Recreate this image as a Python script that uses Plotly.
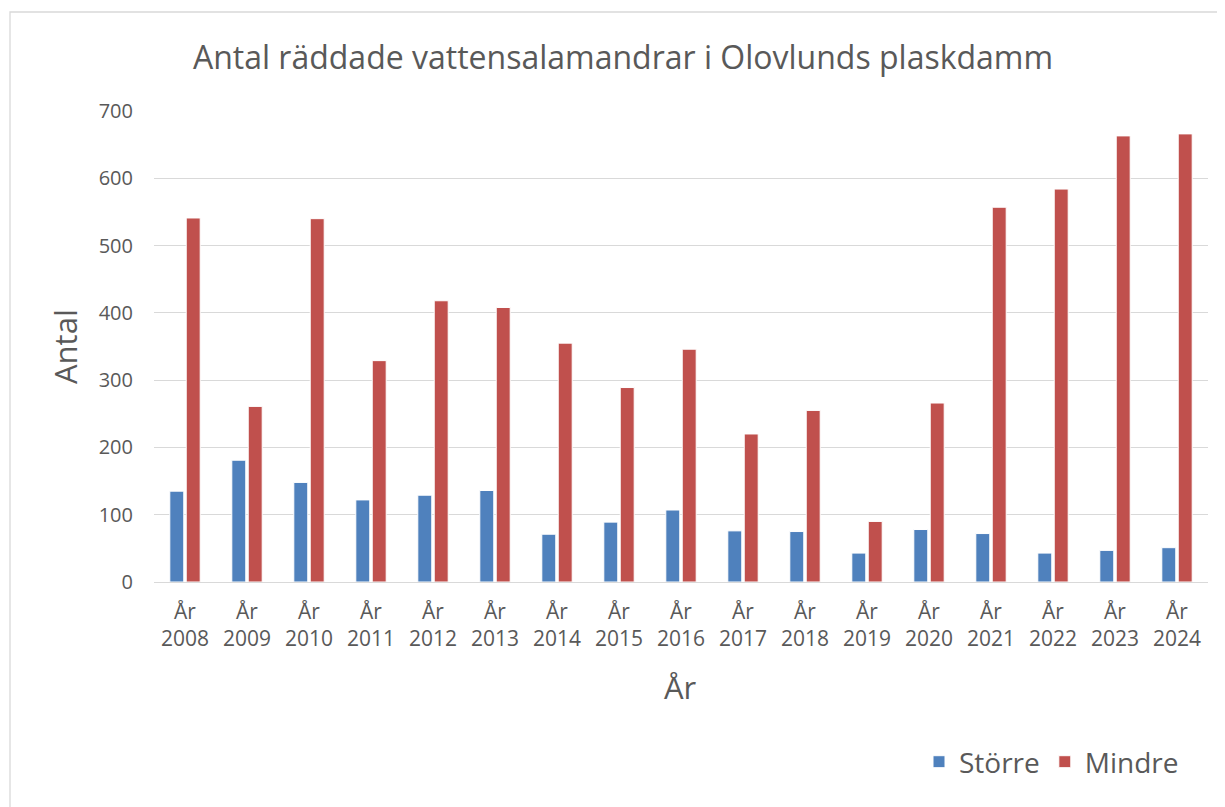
import plotly.graph_objects as go

years = ["2008", "2009", "2010", "2011", "2012", "2013", "2014", "2015", "2016",
         "2017", "2018", "2019", "2020", "2021", "2022", "2023", "2024"]
categories = ["År<br>" + y for y in years]
storre = [135, 181, 148, 122, 129, 136, 71, 89, 107, 76, 75, 43, 78, 72, 43, 47, 51]
mindre = [541, 261, 540, 329, 418, 408, 355, 289, 346, 220, 255, 90, 266, 557, 584, 663, 666]
y_ticks = [0, 100, 200, 300, 400, 500, 600, 700]

# page body has an 8px margin; work in screen coordinates and convert
OFF = 8
W, H = 1225 - OFF, 807 - OFF
PL, PR, PT, PB = 154, 1208, 111, 582          # plot area in screen pixels
L, R, T, B = PL - OFF, W - (PR - OFF), PT - OFF, H - (PB - OFF)
PW, PH = PR - PL, PB - PT

def px(x):
    return (x - PL) / PW

def py(y):
    return (PB - y) / PH

FONT = "Open Sans"
TXT = "#595959"
GRID = "#D9D9D9"

fig = go.Figure()
fig.add_trace(go.Bar(x=categories, y=storre, name="Större",
                     marker=dict(color="#4F81BD", line=dict(color="white", width=1))))
fig.add_trace(go.Bar(x=categories, y=mindre, name="Mindre",
                     marker=dict(color="#C0504D", line=dict(color="white", width=1))))

fig.update_layout(
    width=W, height=H,
    margin=dict(l=L, r=R, t=T, b=B),
    paper_bgcolor="white", plot_bgcolor="white",
    barmode="group", bargap=0.47, bargroupgap=0.15,
    font=dict(family=FONT, color=TXT),
    title=dict(text="Antal räddade vattensalamandrar i Olovlunds plaskdamm",
               x=(623 - OFF) / W, xanchor="center", y=1 - (58 - OFF) / H, yanchor="middle",
               font=dict(size=32, color=TXT, family=FONT)),
    showlegend=True,
    legend=dict(orientation="h", x=px(1184), xanchor="right", y=py(762), yanchor="middle",
                font=dict(size=28, color=TXT), bgcolor="rgba(0,0,0,0)",
                itemwidth=30),
    xaxis=dict(showgrid=False, showline=False, ticks="", tickfont=dict(size=21, color=TXT),
               ticklabelstandoff=15, fixedrange=True),
    yaxis=dict(range=[0, 700], tickvals=y_ticks, showgrid=True, gridcolor=GRID, gridwidth=1.3,
               zeroline=True, zerolinecolor=GRID, zerolinewidth=1.3, showline=False, ticks="",
               tickfont=dict(size=20, color=TXT), ticklabelstandoff=20, fixedrange=True),
    annotations=[
        dict(text="Antal", xref="paper", yref="paper", x=px(65), y=py(347), showarrow=False,
             textangle=-90, font=dict(size=31, color=TXT), xanchor="center", yanchor="middle"),
        dict(text="År", xref="paper", yref="paper", x=px(680), y=py(687), showarrow=False,
             font=dict(size=31, color=TXT), xanchor="center", yanchor="middle"),
    ],
    shapes=[
        dict(type="rect", xref="paper", yref="paper", x0=px(10), y0=py(12), x1=px(1240), y1=py(830),
             line=dict(color=GRID, width=1.3), fillcolor="rgba(0,0,0,0)", layer="below"),
    ],
)

fig.write_html("out.html")
